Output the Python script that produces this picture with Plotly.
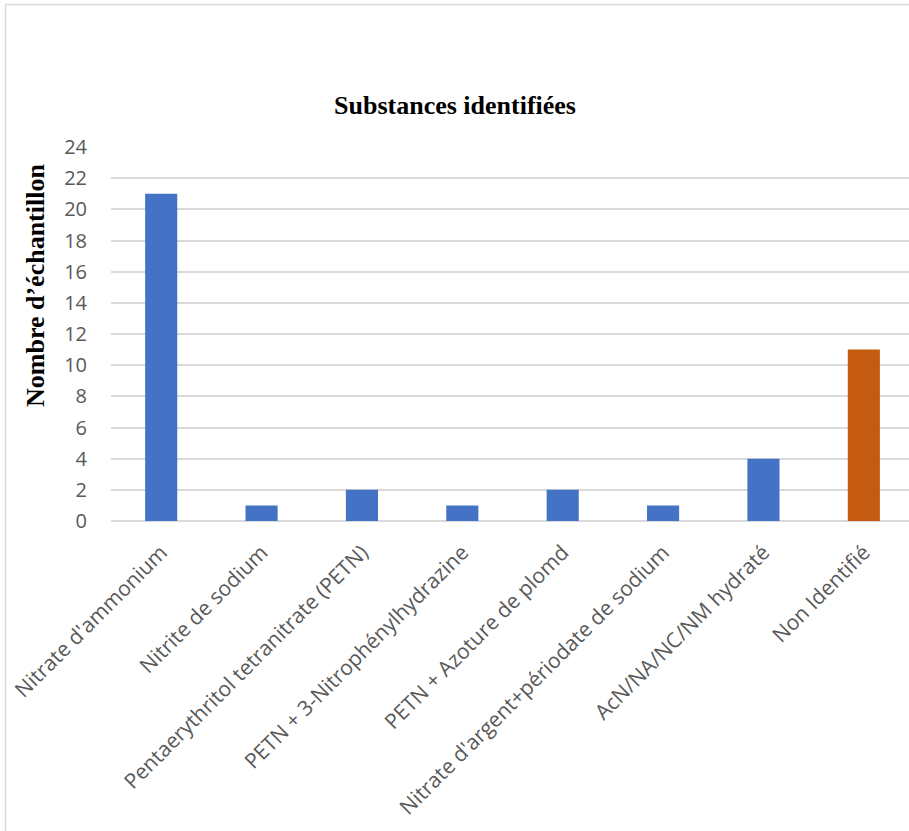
import plotly.graph_objects as go

# Sample counts per identified substance
substances = [
    "Nitrate d'ammonium",
    "Nitrite de sodium",
    "Pentaerythritol tetranitrate (PETN)",
    "PETN + 3-Nitrophénylhydrazine",
    "PETN + Azoture de plomd",
    "Nitrate d'argent+périodate de sodium",
    "AcN/NA/NC/NM hydraté",
    "Non Identifié",
]
counts = [21, 1, 2, 1, 2, 1, 4, 11]
bar_colors = ["#4472C4"] * 7 + ["#C55A11"]
y_ticks = list(range(0, 25, 2))

W, H = 909, 831
L, R, T, B = 111, 0, 147, 310
pw, ph = W - L - R, H - T - B

def px_x(px):
    return (px - L) / pw

def px_y(py):
    return (H - B - py) / ph

fig = go.Figure(
    go.Bar(
        x=substances,
        y=counts,
        marker=dict(color=bar_colors, line=dict(width=0)),
        width=0.32,
    )
)

grid = "#d9d9d9"
fig.update_layout(
    width=W,
    height=H,
    margin=dict(l=L, r=R, t=T, b=B),
    paper_bgcolor="white",
    plot_bgcolor="white",
    showlegend=False,
    title=dict(
        text="<b>Substances identifiées</b>",
        font=dict(family="Liberation Serif", size=26, color="black"),
        x=455 / W,
        xref="container",
        xanchor="center",
        y=1 - 105 / H,
        yref="container",
        yanchor="middle",
    ),
    xaxis=dict(
        range=[-0.5, 7.45],
        tickangle=-45,
        tickfont=dict(family="Open Sans", size=21, color="#595959"),
        showgrid=False,
        showline=False,
        ticks="",
        ticklabelstandoff=14,
        fixedrange=True,
    ),
    yaxis=dict(
        range=[0, 24],
        tickvals=y_ticks,
        tickfont=dict(family="Open Sans", size=20, color="#595959"),
        showgrid=True,
        gridcolor=grid,
        gridwidth=1.5,
        zeroline=True,
        zerolinecolor=grid,
        zerolinewidth=1.5,
        showline=False,
        ticks="",
        ticklabelstandoff=23,
    ),
    annotations=[
        dict(
            text="<b>Nombre d’échantillon</b>",
            textangle=-90,
            x=px_x(35),
            y=px_y(286),
            xref="paper",
            yref="paper",
            xanchor="center",
            yanchor="middle",
            showarrow=False,
            font=dict(family="Liberation Serif", size=26, color="black"),
        )
    ],
    shapes=[
        dict(type="line", xref="paper", yref="paper",
             x0=px_x(5.5), x1=px_x(W + 5), y0=px_y(4.5), y1=px_y(4.5),
             line=dict(color=grid, width=1.5)),
        dict(type="line", xref="paper", yref="paper",
             x0=px_x(5.5), x1=px_x(5.5), y0=px_y(4.5), y1=px_y(H + 5),
             line=dict(color=grid, width=1.5)),
    ],
)

fig.write_html("out.html")
